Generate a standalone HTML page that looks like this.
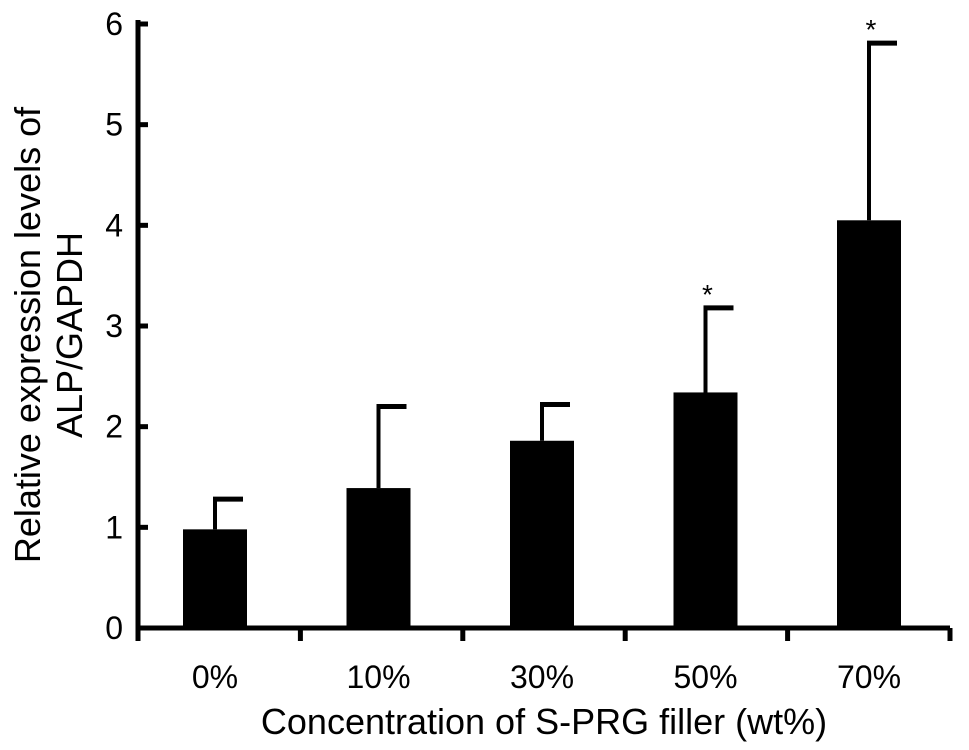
<!DOCTYPE html>
<html><head><meta charset="utf-8"><style>
html,body{margin:0;padding:0;background:#fff;}
svg{display:block;font-family:"Liberation Sans",Arial,sans-serif;}
</style></head><body>
<svg id="chart" width="969" height="750" viewBox="0 0 969 750">
<g id="plot"></g>
<text transform="translate(40,335) rotate(-90)" text-anchor="middle" font-size="36">Relative expression levels of</text>
<text transform="translate(82,335) rotate(-90)" text-anchor="middle" font-size="36">ALP/GAPDH</text>
<text x="544" y="734" text-anchor="middle" font-size="36">Concentration of S-PRG filler (wt%)</text>
</svg>
<script>
const categories=["0%","10%","30%","50%","70%"];
const means=[0.98,1.39,1.86,2.34,4.05];
const errTops=[1.28,2.20,2.22,3.18,5.81];
const stars=[false,false,false,true,true];
const yTicks=[0,1,2,3,4,5,6];
const NS="http://www.w3.org/2000/svg";
const g=document.getElementById('plot');
const x0=138,x1=950,yBase=628,yTop=24,yMax=6;
const step=163.5;
function yS(v){return yBase-(v/yMax)*(yBase-yTop);}
function xC(i){return 215+step*i;}
function mk(t,a){const e=document.createElementNS(NS,t);for(const k in a)e.setAttribute(k,a[k]);g.appendChild(e);return e;}
categories.forEach((c,i)=>{
 const cx=xC(i),w=64;
 const eb=mk('line',{x1:cx,x2:cx,y1:yS(errTops[i]),y2:yS(means[i]),stroke:'#000','stroke-width':4});
 
 
 const cap=mk('line',{x1:cx-2,x2:cx+28,y1:yS(errTops[i]),y2:yS(errTops[i]),stroke:'#000','stroke-width':5});
 
 
 const r=mk('rect',{x:cx-w/2,y:yS(means[i]),width:w,height:yBase-yS(means[i]),fill:'#000'});
 
 
 const t=mk('text',{x:cx,y:688,'text-anchor':'middle','font-size':32});
 t.textContent=c;
 
 
 if(stars[i]){const s=mk('text',{x:cx+2,y:yS(errTops[i])-4,'text-anchor':'middle','font-size':28});s.textContent='*';
 
 }
});
const ya=mk('line',{x1:x0,x2:x0,y1:yTop-4,y2:yBase+13,stroke:'#000','stroke-width':5});


const xa=mk('line',{x1:x0-2,x2:x1,y1:yBase,y2:yBase,stroke:'#000','stroke-width':5});


for(let i=1;i<=categories.length;i++){const tx=x0+i*(x1-x0)/categories.length;
 const tk=mk('line',{x1:tx,x2:tx,y1:yBase,y2:yBase+13,stroke:'#000','stroke-width':5});
 
 }
yTicks.forEach(v=>{
 const tk=mk('line',{x1:x0,x2:x0+10,y1:yS(v),y2:yS(v),stroke:'#000','stroke-width':5});
 
 
 const t=mk('text',{x:123,y:yS(v)+11,'text-anchor':'end','font-size':32});t.textContent=v;
 
 
});
</script>
</body></html>
